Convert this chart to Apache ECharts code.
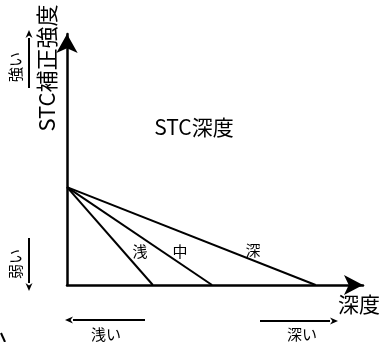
<!DOCTYPE html>
<html><head><meta charset="utf-8">
<script src="https://cdn.jsdelivr.net/npm/echarts@6/dist/echarts.min.js"></script>
<style>html,body{margin:0;padding:0;background:#fff;}#c{width:380px;height:342px;}</style>
</head><body><div id="c"></div>
<script>
// Data (abstract units: depth 0-100, intensity 0-100)
const categories = ['浅', '中', '深'];
const startIntensity = 39;
const endDepths = [29, 49, 84];
const labelText = { title: 'STC深度', yName: 'STC補正強度', xName: '深度', strong: '強い', weak: '弱い', shallow: '浅い', deep: '深い' };

const FONT = '"Noto Sans CJK JP", sans-serif';
const chart = echarts.init(document.getElementById('c'), null, { renderer: 'canvas' });

const series = categories.map((c, i) => ({
  type: 'line', name: c, symbol: 'none', silent: true,
  lineStyle: { color: '#000', width: 2 },
  data: [[0, startIntensity], [endDepths[i], 0]]
}));

function arrow(x1, y1, x2, y2) {
  // line from (x1,y1) to tip (x2,y2) with small head
  const dx = x2 - x1, dy = y2 - y1, L = Math.hypot(dx, dy);
  const ux = dx / L, uy = dy / L, hl = 8, hw = 3.5;
  const bx = x2 - ux * hl, by = y2 - uy * hl;
  return [
    { type: 'line', shape: { x1, y1, x2: bx, y2: by }, style: { stroke: '#000', lineWidth: 2 } },
    { type: 'polygon', shape: { points: [[x2, y2], [bx - uy * hw, by + ux * hw], [x2 - ux * hl * 0.7, y2 - uy * hl * 0.7], [bx + uy * hw, by - ux * hw]] }, style: { fill: '#000' } }
  ];
}

function txt(x, y, text, size, rot) {
  return { type: 'text', x, y, rotation: rot || 0, style: { text, font: size + 'px ' + FONT, fill: '#000', align: 'center', verticalAlign: 'middle' } };
}

chart.setOption({
  animation: false,
  grid: { left: 67, right: 17, top: 34, bottom: 57 },
  xAxis: {
    type: 'value', min: 0, max: 100,
    axisLine: { show: true, onZero: false, symbol: ['none', 'arrow'], symbolSize: [15, 19], lineStyle: { color: '#000', width: 2.5 } },
    axisTick: { show: false }, axisLabel: { show: false }, splitLine: { show: false }
  },
  yAxis: {
    type: 'value', min: 0, max: 100,
    axisLine: { show: true, onZero: false, symbol: ['none', 'arrow'], symbolSize: [16, 19], lineStyle: { color: '#000', width: 2.5 } },
    axisTick: { show: false }, axisLabel: { show: false }, splitLine: { show: false }
  },
  series,
  graphic: [
    txt(47, 68, labelText.yName, 22, Math.PI / 2),
    txt(15, 67, labelText.strong, 15, Math.PI / 2),
    txt(15, 264, labelText.weak, 15, Math.PI / 2),
    txt(194, 127, labelText.title, 21),
    txt(359, 304, labelText.xName, 21),
    txt(106, 334, labelText.shallow, 15),
    txt(302, 334, labelText.deep, 15),
    txt(140, 251, categories[0], 15),
    txt(180, 251, categories[1], 15),
    txt(253, 250, categories[2], 15),
    ...arrow(29, 88, 29, 30),
    ...arrow(29, 238, 29, 291),
    ...arrow(145, 320, 65, 320),
    ...arrow(260, 321, 338, 321),
    { type: 'line', shape: { x1: 1, y1: 333, x2: 5, y2: 342 }, style: { stroke: '#000', lineWidth: 2 } }
  ]
});
</script></body></html>
